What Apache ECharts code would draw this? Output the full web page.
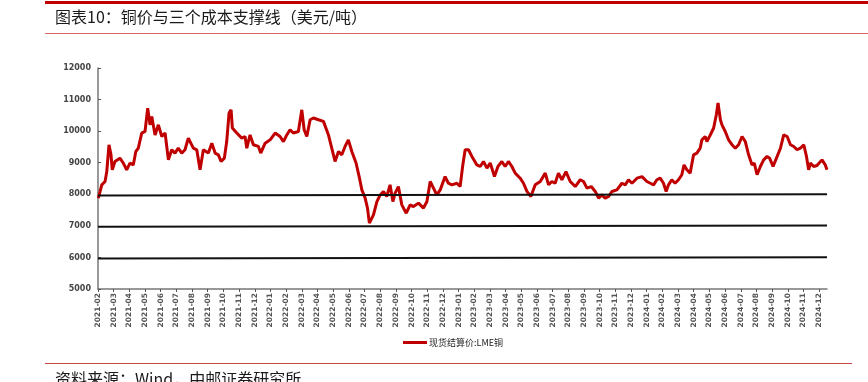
<!DOCTYPE html>
<html>
<head>
<meta charset="utf-8">
<script src="https://cdn.jsdelivr.net/npm/echarts@6/dist/echarts.min.js"></script>
<style>
  html,body{margin:0;padding:0;background:#fff;}
  #chart{width:868px;height:382px;}
</style>
</head>
<body>
<div id="chart"></div>
<script>
// x 轴月份标签
const months = ['2021-02','2021-03','2021-04','2021-05','2021-06','2021-07','2021-08','2021-09','2021-10','2021-11','2021-12',
  '2022-01','2022-02','2022-03','2022-04','2022-05','2022-06','2022-07','2022-08','2022-09','2022-10','2022-11','2022-12',
  '2023-01','2023-02','2023-03','2023-04','2023-05','2023-06','2023-07','2023-08','2023-09','2023-10','2023-11','2023-12',
  '2024-01','2024-02','2024-03','2024-04','2024-05','2024-06','2024-07','2024-08','2024-09','2024-10','2024-11','2024-12']
const yTicks = [5000,6000,7000,8000,9000,10000,11000,12000]

// LME铜现货结算价: 位置(自2021-02起的月数) / 价格
const priceT = [0.02,0.13,0.24,0.45,0.56,0.70,0.83,0.91,1.08,1.40,1.61,1.83,2.04,2.25,2.41,2.57,2.79,3.00,3.17,3.32,3.43,3.64,3.85,
  4.07,4.28,4.49,4.70,4.91,5.12,5.34,5.55,5.76,6.08,6.30,6.51,6.72,7.04,7.26,7.47,7.68,7.85,8.06,8.21,8.36,8.49,8.57,8.85,
  9.17,9.38,9.49,9.70,9.91,10.23,10.38,10.66,10.98,11.30,11.61,11.83,12.04,12.25,12.46,12.78,13.00,13.15,13.32,13.53,13.74,
  14.06,14.38,14.49,14.70,14.91,15.12,15.34,15.55,15.76,15.97,16.19,16.46,16.68,16.83,17.04,17.19,17.31,17.57,17.79,18.00,
  18.21,18.42,18.63,18.81,18.95,19.16,19.38,19.66,19.91,20.12,20.44,20.76,20.98,21.19,21.40,21.61,21.83,22.14,22.35,22.57,
  22.89,23.10,23.27,23.42,23.63,23.85,24.17,24.38,24.59,24.81,25.02,25.29,25.51,25.76,25.97,26.18,26.40,26.61,26.93,27.14,
  27.36,27.61,27.89,28.21,28.53,28.74,28.95,29.16,29.37,29.59,29.85,30.12,30.44,30.76,30.97,31.19,31.46,31.72,31.93,32.14,
  32.35,32.57,32.78,33.10,33.42,33.63,33.84,34.06,34.38,34.70,35.01,35.23,35.44,35.65,35.86,36.07,36.24,36.39,36.60,36.81,
  37.03,37.24,37.38,37.56,37.77,37.99,38.20,38.41,38.52,38.73,38.84,39.06,39.27,39.44,39.55,39.70,39.80,40.01,40.22,40.44,
  40.65,40.86,41.08,41.29,41.50,41.72,41.86,42.04,42.25,42.46,42.68,42.84,43.06,43.32,43.53,43.74,43.96,44.17,44.38,44.59,
  44.80,45.02,45.19,45.33,45.44,45.65,45.86,46.18,46.39,46.50]
const priceV = [7877,8087,8300,8404,8720,9568,9250,8775,9040,9145,8990,8775,8990,8930,9350,9460,9940,9990,10730,10200,10465,9880,10200,
  9830,9940,9090,9410,9305,9460,9305,9410,9780,9460,9410,8775,9410,9305,9620,9305,9250,9040,9145,9670,10570,10675,10100,9940,
  9780,9830,9460,9880,9570,9515,9305,9620,9725,9940,9830,9670,9880,10045,9940,9990,10675,10045,9830,10360,10415,
  10360,10310,10360,9880,9460,9040,9355,9250,9515,9725,9355,8990,8510,8140,7877,7560,7085,7350,7770,7980,
  8090,7930,8300,7770,8035,8245,7665,7400,7665,7610,7720,7560,7770,8405,8195,7980,8140,8560,8350,8300,
  8350,8245,8930,9410,9410,9200,8930,8880,9040,8830,8990,8560,8880,9040,8880,9040,8880,8670,8510,8350,
  8090,7930,8300,8405,8670,8300,8405,8350,8670,8460,8720,8405,8245,8460,8405,8195,8245,8090,7877,7980,
  7877,7930,8090,8140,8350,8300,8460,8350,8510,8560,8405,8350,8300,8460,8510,8350,8090,8300,8460,8350,
  8460,8620,8930,8775,8670,9250,9305,9460,9725,9830,9670,9880,10100,10520,10890,10360,10200,9990,9725,9570,
  9460,9570,9830,9670,9250,8930,8990,8620,8880,9090,9200,9145,8880,9200,9460,9880,9830,9570,9515,9410,
  9460,9570,9200,8775,8990,8880,8910,9090,8930,8775]

// 三条成本支撑线(起点/终点)
const supportStart = [7960,6970,5970]
const supportEnd = [8005,7010,6005]
const xEnd = 46.5

const chart = echarts.init(document.getElementById('chart'))
const fontCN = '"Noto Sans CJK SC", sans-serif'

const supportSeries = supportStart.map((s, i) => ({
  name: '支撑线' + (i + 1),
  type: 'line',
  data: [[0, s], [xEnd, supportEnd[i]]],
  showSymbol: false,
  silent: true,
  lineStyle: { color: '#111', width: 2 },
  z: 3
}))

const opt = {
  animation: false,
  backgroundColor: '#fff',
  grid: { left: 98, right: 41, top: 68, bottom: 93 },
  legend: {
    data: ['现货结算价:LME铜'],
    left: 398,
    top: 333,
    icon: 'rect',
    itemWidth: 24,
    itemHeight: 3,
    itemGap: 2,
    textStyle: { fontSize: 9, color: '#222', fontFamily: fontCN, padding: [0, 0, 0, -3] }
  },
  xAxis: {
    type: 'value',
    min: 0,
    max: xEnd,
    interval: 1,
    splitLine: { show: false },
    axisLine: { lineStyle: { color: '#777', width: 1.5 } },
    axisTick: { length: 3, lineStyle: { color: '#555' }, customValues: months.map((m, i) => i) },
    axisLabel: {
      customValues: months.map((m, i) => i),
      formatter: v => months[Math.round(v)] || '',
      rotate: 90,
      margin: 4,
      fontSize: 7.5,
      fontWeight: 'bold',
      color: '#555',
      fontFamily: 'DejaVu Sans'
    }
  },
  yAxis: {
    type: 'value',
    min: yTicks[0],
    max: yTicks[yTicks.length - 1],
    interval: 1000,
    splitLine: { show: false },
    axisLine: { show: true, lineStyle: { color: '#777', width: 1.5 } },
    axisTick: { show: true, inside: true, length: 3, lineStyle: { color: '#555' } },
    axisLabel: { formatter: v => String(v), fontSize: 8, fontWeight: 'bold', color: '#444', margin: 7, fontFamily: 'DejaVu Sans' }
  },
  graphic: [
    { type: 'rect', shape: { x: 45, y: 1, width: 823, height: 3 }, style: { fill: '#c00000' } },
    { type: 'text', left: 55, top: 9, style: { text: '图表10：铜价与三个成本支撑线（美元/吨）', fontSize: 16, fill: '#1a1a1a', fontFamily: fontCN } },
    { type: 'rect', shape: { x: 45, y: 33, width: 823, height: 1 }, style: { fill: '#d46a6a' } },
    { type: 'rect', shape: { x: 45, y: 363, width: 807, height: 1 }, style: { fill: '#c04848' } },
    { type: 'text', left: 55, top: 371, style: { text: '资料来源：Wind，中邮证券研究所', fontSize: 16, fill: '#1a1a1a', fontFamily: fontCN } }
  ],
  series: [
    {
      name: '现货结算价:LME铜',
      type: 'line',
      data: priceT.map((t, i) => [t, priceV[i]]),
      showSymbol: false,
      color: '#c00000',
      lineStyle: { color: '#c00000', width: 3 },
      z: 2
    },
    ...supportSeries
  ]
}
chart.setOption(opt)
</script>
</body>
</html>
